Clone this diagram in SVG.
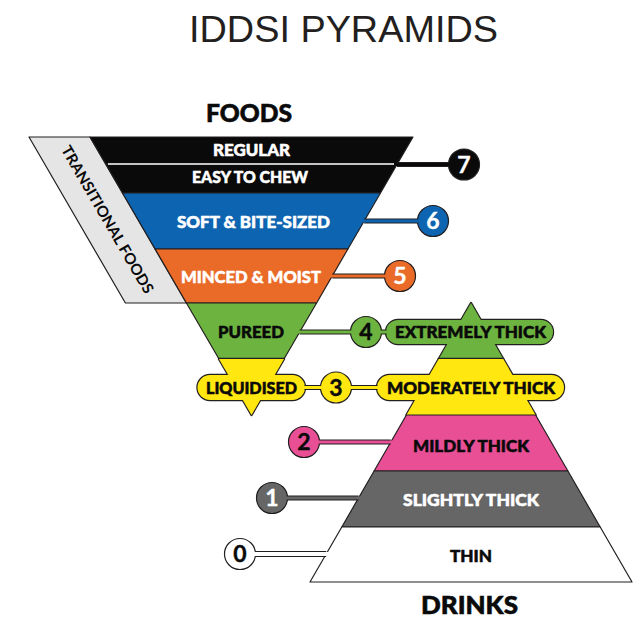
<svg xmlns="http://www.w3.org/2000/svg" width="641" height="619" viewBox="0 0 641 619">
<style>
.ol{stroke:#231f20;stroke-width:1.2;stroke-linejoin:round}
.ol2{stroke:#231f20;stroke-width:2.4;stroke-linejoin:round}
.lb{font-family:Lato,"Liberation Sans",sans-serif;font-weight:900;font-size:17px;text-anchor:middle;stroke-width:0.55;stroke-linejoin:round}
.n{font-family:Lato,"Liberation Sans",sans-serif;font-weight:700;font-size:23px;text-anchor:middle;stroke-width:0.4}
.hd{font-family:Lato,"Liberation Sans",sans-serif;font-weight:900;font-size:25px;text-anchor:middle;fill:#0a0a0a;stroke:#0a0a0a;stroke-width:0.6}
.co{stroke:#231f20;stroke-width:5;fill:none}
.wt{fill:#ffffff}.bk{fill:#0a0a0a}
text.wt{stroke:#ffffff}text.bk{stroke:#0a0a0a}
.blk{fill:#0a0a0a}.blu{fill:#0d64b0}.org{fill:#ea6a27}.grn{fill:#6db33f}.yel{fill:#ffe70f}.pnk{fill:#e84f95}.gry{fill:#666666}.lgr{fill:#e5e5e5}
</style>

<text x="343.5" y="42" font-family="'Liberation Sans',Inter,sans-serif" font-size="37" fill="#231f20" text-anchor="middle" textLength="309" lengthAdjust="spacingAndGlyphs">IDDSI PYRAMIDS</text>
<text class="hd" x="249" y="122" textLength="86" lengthAdjust="spacingAndGlyphs">FOODS</text>
<text class="hd" x="469.5" y="614" textLength="97" lengthAdjust="spacingAndGlyphs">DRINKS</text>

<!-- FOODS -->
<g id="transitional-foods">
<polygon class="ol lgr" points="29,137 90,137 186.4,303 125.4,303"/>
<text transform="translate(107.5,219.5) rotate(59.8)" x="0" y="5.3" font-family="Lato,'Liberation Sans',sans-serif" font-weight="700" font-size="15" fill="#0a0a0a" text-anchor="middle" textLength="168" lengthAdjust="spacingAndGlyphs">TRANSITIONAL FOODS</text>
</g>
<g id="regular">
<polygon class="ol blk" points="90,137 413,137 397.3,164 105.7,164"/>
<text class="lb wt" x="251.5" y="156" textLength="77" lengthAdjust="spacingAndGlyphs">REGULAR</text>
</g>
<g id="easy-to-chew">
<polygon class="ol blk" points="105.7,164 397.3,164 380.5,193 122.5,193"/>
<line x1="108" y1="164" x2="395" y2="164" stroke="#ffffff" stroke-width="1.3"/>
<text class="lb wt" x="250" y="183" textLength="116" lengthAdjust="spacingAndGlyphs">EASY TO CHEW</text>
</g>
<g id="soft-bite-sized">
<polygon class="ol blu" points="122.5,193 380.5,193 347.9,249 155.1,249"/>
<text class="lb wt" x="253.5" y="228" textLength="153" lengthAdjust="spacingAndGlyphs">SOFT &amp; BITE-SIZED</text>
</g>
<g id="minced-moist">
<polygon class="ol org" points="155.1,249 347.9,249 316.6,303 186.4,303"/>
<text class="lb wt" x="251" y="283" textLength="140" lengthAdjust="spacingAndGlyphs">MINCED &amp; MOIST</text>
</g>
<g id="pureed">
<polygon class="ol grn" points="186.4,303 316.6,303 284,359 219,359"/>
<text class="lb bk" x="251" y="338" textLength="66" lengthAdjust="spacingAndGlyphs">PUREED</text>
</g>
<g id="liquidised">
<polygon class="ol2 yel" points="219,359 284,359 251.5,415"/>
<rect class="ol2 yel" x="197.5" y="375" width="107.5" height="25" rx="12.5"/>
<polygon class="yel" points="219,359 284,359 251.5,415"/>
<rect class="yel" x="197.5" y="375" width="107.5" height="25" rx="12.5"/>
<text class="lb bk" x="251.5" y="394" textLength="91" lengthAdjust="spacingAndGlyphs">LIQUIDISED</text>
</g>

<!-- DRINKS -->
<g id="extremely-thick">
<polygon class="ol2 grn" points="471,303 503.3,359 438.7,359"/>
<rect class="ol2 grn" x="386" y="320" width="167" height="24" rx="12"/>
<polygon class="grn" points="471,303 503.3,359 438.7,359"/>
<rect class="grn" x="386" y="320" width="167" height="24" rx="12"/>
<text class="lb bk" x="470.5" y="338" textLength="151" lengthAdjust="spacingAndGlyphs">EXTREMELY THICK</text>
</g>
<g id="moderately-thick">
<polygon class="ol2 yel" points="438.7,359 503.3,359 535.6,415 406.4,415"/>
<rect class="ol2 yel" x="377" y="375" width="187" height="25" rx="12.5"/>
<polygon class="yel" points="438.7,359 503.3,359 535.6,415 406.4,415"/>
<rect class="yel" x="377" y="375" width="187" height="25" rx="12.5"/>
<text class="lb bk" x="471" y="394" textLength="168" lengthAdjust="spacingAndGlyphs">MODERATELY THICK</text>
</g>
<g id="mildly-thick">
<polygon class="ol pnk" points="406.4,415 535.6,415 567.9,471 374.1,471"/>
<text class="lb bk" x="471" y="451.5" textLength="116" lengthAdjust="spacingAndGlyphs">MILDLY THICK</text>
</g>
<g id="slightly-thick">
<polygon class="ol gry" points="374.1,471 567.9,471 600.2,527 341.8,527"/>
<text class="lb wt" x="471" y="506" textLength="136" lengthAdjust="spacingAndGlyphs">SLIGHTLY THICK</text>
</g>
<g id="thin">
<polygon class="ol wt" points="341.8,527 600.2,527 632,582 310,582"/>
<text class="lb bk" x="471" y="562" textLength="42" lengthAdjust="spacingAndGlyphs">THIN</text>
</g>

<!-- LEVEL MARKERS -->
<g id="level-7"><circle class="ol blk" cx="464" cy="164.5" r="15.5"/><text class="n wt" x="464" y="172.5">7</text></g>
<g id="level-6"><circle class="ol blu" cx="433" cy="221" r="15.5"/><text class="n wt" x="433" y="229">6</text></g>
<g id="level-5"><circle class="ol org" cx="400" cy="276" r="15.5"/><text class="n wt" x="400" y="284">5</text></g>
<g id="level-4"><circle class="ol grn" cx="366" cy="332" r="15.5"/><text class="n bk" x="366" y="340">4</text></g>
<g id="level-3"><circle class="ol yel" cx="336" cy="387.5" r="15.5"/><text class="n bk" x="336" y="395.5">3</text></g>
<g id="level-2"><circle class="ol pnk" cx="304" cy="442" r="15.5"/><text class="n bk" x="304" y="450">2</text></g>
<g id="level-1"><circle class="ol gry" cx="272" cy="498" r="15.5"/><text class="n wt" x="272" y="506">1</text></g>
<g id="level-0"><circle class="ol wt" cx="240" cy="554" r="15.5"/><text class="n bk" x="240" y="562">0</text></g>

<!-- CONNECTORS -->
<g id="connectors">
<line class="co" x1="397" y1="164.5" x2="449" y2="164.5"/>
<line x1="394" y1="164.5" x2="450.5" y2="164.5" stroke="#0a0a0a" stroke-width="3"/>

<line class="co" x1="364.2" y1="221" x2="417.8" y2="221"/>
<line x1="362" y1="221" x2="419.5" y2="221" stroke="#0d64b0" stroke-width="3"/>

<line class="co" x1="332.2" y1="276" x2="384.8" y2="276"/>
<line x1="330" y1="276" x2="386.5" y2="276" stroke="#ea6a27" stroke-width="3"/>

<line class="co" x1="299.7" y1="332" x2="350.8" y2="332"/>
<line x1="297.5" y1="332" x2="352.5" y2="332" stroke="#6db33f" stroke-width="3"/>
<line class="co" x1="381.2" y1="332" x2="386.5" y2="332"/>
<line x1="379.5" y1="332" x2="388.5" y2="332" stroke="#6db33f" stroke-width="3"/>

<line class="co" x1="304.5" y1="387.5" x2="320.8" y2="387.5"/>
<line x1="302.5" y1="387.5" x2="322.5" y2="387.5" stroke="#ffe70f" stroke-width="3"/>
<line class="co" x1="351.2" y1="387.5" x2="377.5" y2="387.5"/>
<line x1="349.5" y1="387.5" x2="379.5" y2="387.5" stroke="#ffe70f" stroke-width="3"/>

<line class="co" x1="319.2" y1="442" x2="390.8" y2="442"/>
<line x1="317.5" y1="442" x2="393" y2="442" stroke="#e84f95" stroke-width="3"/>

<line class="co" x1="287.2" y1="498" x2="358.5" y2="498"/>
<line x1="285.5" y1="498" x2="360.8" y2="498" stroke="#666666" stroke-width="3"/>

<line x1="255.2" y1="554" x2="326.2" y2="554" stroke="#231f20" stroke-width="6"/>
<line x1="253.5" y1="554" x2="328.5" y2="554" stroke="#ffffff" stroke-width="3.8"/>
</g>
</svg>
